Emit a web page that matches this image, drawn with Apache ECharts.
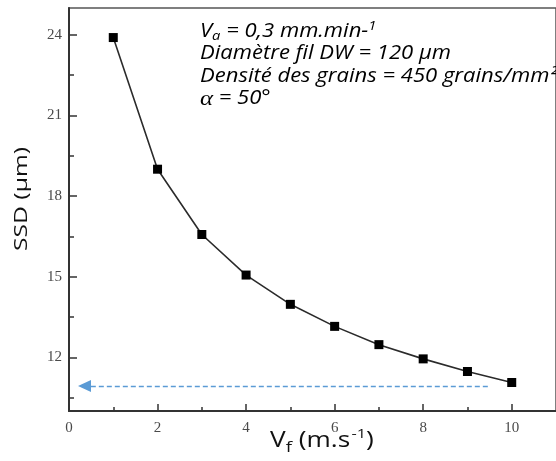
<!DOCTYPE html>
<html><head><meta charset="utf-8">
<script src="https://cdn.jsdelivr.net/npm/echarts@6/dist/echarts.min.js"></script>
<style>html,body{margin:0;padding:0;background:#fff}#c{width:556px;height:461px}</style>
</head><body><div id="c"></div>
<script>
// ---- data ----
const vf = [1, 2, 3, 4, 5, 6, 7, 8, 9, 10];
const ssd = [23.9, 19.0, 16.57, 15.06, 13.97, 13.15, 12.47, 11.94, 11.47, 11.06];
const xMajorTicks = [0, 2, 4, 6, 8, 10];
const xMinorTicks = [1, 3, 5, 7, 9];
const yMajorTicks = [12, 15, 18, 21, 24];
const yMinorTicks = [10.5, 13.5, 16.5, 19.5, 22.5];
const arrowLevel = 10.93;
const arrowFrom = 9.46;
const arrowTo = 0.35;
const noteVa = ['V', 'a', ' = 0,3 mm.min-', '1'];
const noteWire = 'Diamètre fil DW = 120 µm';
const noteDensity = 'Densité des grains = 450 grains/mm²';
const noteAngle = ['α', ' = 50°'];
const xTitle = ['V', 'f', ' (m.s', '-1', ')'];
const yTitle = 'SSD (µm)';

const chart = echarts.init(document.getElementById('c'), null, {renderer: 'canvas'});
const serif = 'Liberation Serif';
const sans = 'Open Sans';
const axisCol = '#333';

const baseX = {
  type: 'value', min: 0, max: 11, position: 'bottom',
  splitLine: {show: false}
};
const baseY = {
  type: 'value', min: 10, max: 25, position: 'left',
  splitLine: {show: false}
};

const option = {
  animation: false,
  backgroundColor: '#fff',
  grid: {left: 69, top: 8, right: -8, bottom: 50, show: true, borderColor: '#555', borderWidth: 1.5, backgroundColor: 'transparent'},
  xAxis: [
    Object.assign({}, baseX, {
      axisLine: {lineStyle: {color: axisCol, width: 2}},
      axisTick: {inside: true, length: 7, customValues: xMajorTicks, lineStyle: {color: axisCol, width: 1.5}},
      axisLabel: {customValues: xMajorTicks, margin: 10, fontFamily: serif, fontSize: 15, color: '#4a4a4a'}
    }),
    Object.assign({}, baseX, {
      axisLine: {show: false},
      axisTick: {inside: true, length: 4, customValues: xMinorTicks, lineStyle: {color: axisCol, width: 1.5}},
      axisLabel: {show: false}
    })
  ],
  yAxis: [
    Object.assign({}, baseY, {
      axisLine: {lineStyle: {color: axisCol, width: 2}},
      axisTick: {inside: true, length: 8, customValues: yMajorTicks, lineStyle: {color: axisCol, width: 1.5}},
      axisLabel: {customValues: yMajorTicks, margin: 7, fontFamily: serif, fontSize: 15, color: '#4a4a4a'}
    }),
    Object.assign({}, baseY, {
      axisLine: {show: false},
      axisTick: {inside: true, length: 5, customValues: yMinorTicks, lineStyle: {color: axisCol, width: 1.5}},
      axisLabel: {show: false}
    })
  ],
  series: [{
    type: 'line',
    xAxisIndex: 0, yAxisIndex: 0,
    data: vf.map((x, i) => [x, ssd[i]]),
    symbol: 'rect', symbolSize: 9,
    lineStyle: {color: '#2b2b2b', width: 1.6},
    itemStyle: {color: '#000'},
    markLine: {
      silent: true,
      animation: false,
      label: {show: false},
      lineStyle: {color: '#5b9bd5', type: [5, 3], width: 1.3},
      emphasis: {disabled: true},
      data: [[
        {coord: [arrowFrom, arrowLevel], symbol: 'none'},
        {coord: [arrowTo, arrowLevel], symbol: 'triangle', symbolSize: [12, 13]}
      ]]
    }
  }],
  graphic: [
    {
      type: 'text', x: 200, y: 20, scaleX: 1.13, silent: true,
      style: {
        x: 0, y: 0, verticalAlign: 'top', align: 'left',
        text: '{i|' + noteVa[0] + '}{sub|' + noteVa[1] + '}{i|' + noteVa[2] + '}{sup|' + noteVa[3] + '}\n' +
              '{i|' + noteWire + '}\n' +
              '{i|' + noteDensity + '}\n' +
              '{a|' + noteAngle[0] + '}{i|' + noteAngle[1] + '}',
        rich: {
          i: {fontFamily: sans, fontStyle: 'italic', fontSize: 19.5, lineHeight: 22.5, fill: '#000'},
          sub: {fontFamily: sans, fontStyle: 'italic', fontSize: 13, lineHeight: 9, verticalAlign: 'bottom', fill: '#000'},
          sup: {fontFamily: sans, fontStyle: 'italic', fontSize: 13, lineHeight: 10, verticalAlign: 'top', fill: '#000'},
          a: {fontFamily: serif, fontStyle: 'italic', fontSize: 22, lineHeight: 22.5, fill: '#000'}
        }
      }
    },
    {
      type: 'text', x: 270, y: 428, scaleX: 1.25, silent: true,
      style: {
        x: 0, y: 0, verticalAlign: 'top', align: 'left',
        text: '{n|' + xTitle[0] + '}{sub|' + xTitle[1] + '}{n|' + xTitle[2] + '}{sup|' + xTitle[3] + '}{n|' + xTitle[4] + '}',
        rich: {
          n: {fontFamily: sans, fontSize: 21, lineHeight: 27, fill: '#111'},
          sub: {fontFamily: sans, fontSize: 15, lineHeight: 8, verticalAlign: 'bottom', fill: '#111'},
          sup: {fontFamily: sans, fontSize: 13, lineHeight: 13, verticalAlign: 'top', padding: [0, 0, 0, 1], fill: '#111'}
        }
      }
    },
    {
      type: 'text', x: 22, y: 199, rotation: Math.PI / 2, scaleX: 1.3, silent: true,
      style: {text: yTitle, fontFamily: sans, fontSize: 19, fill: '#111', align: 'center', verticalAlign: 'middle'}
    }
  ]
};
chart.setOption(option);
</script>
</body></html>
